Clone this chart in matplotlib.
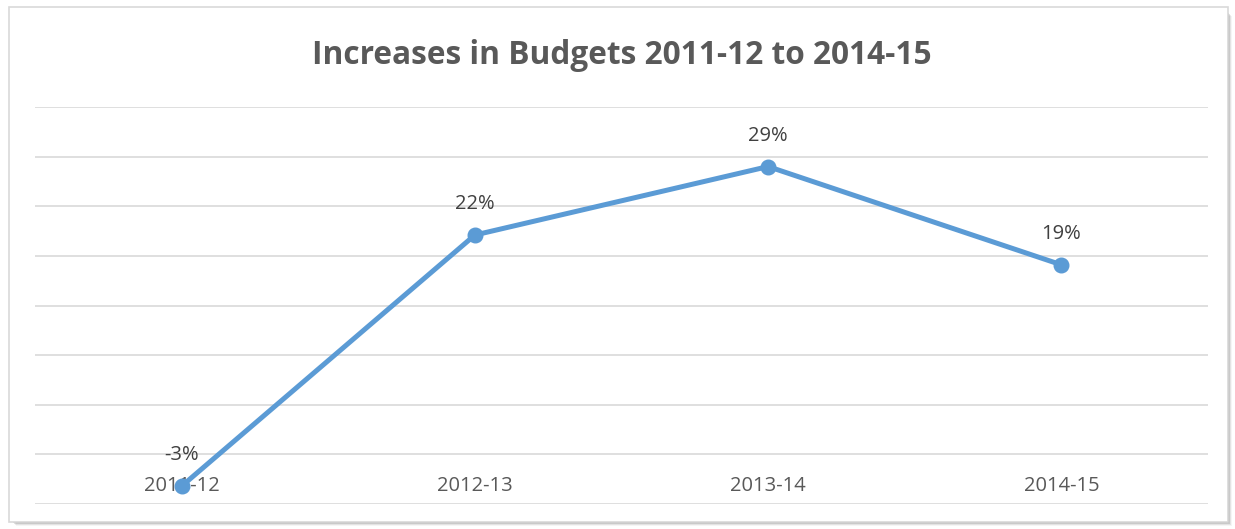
import matplotlib
matplotlib.use("Agg")
import matplotlib.pyplot as plt
from matplotlib.patches import Rectangle

categories = ["2011-12", "2012-13", "2013-14", "2014-15"]
values = [-3.2, 22.1, 29.0, 19.1]
labels = ["-3%", "22%", "29%", "19%"]
title = "Increases in Budgets 2011-12 to 2014-15"

W, H = 1235, 529
fig = plt.figure(figsize=(W / 100, H / 100), dpi=100)
fig.patch.set_facecolor("white")

# chart frame with soft shadow
def px(x0, y0, x1, y1):
    return (x0 / W, 1 - y1 / H), (x1 - x0) / W, (y1 - y0) / H

for i, a in enumerate([0.10, 0.18, 0.28, 0.40]):
    off = 4 - i
    (x, y), w, h = px(12 + off, 12 + off, 1228 + off, 522 + off)
    fig.patches.append(Rectangle((x, y), w, h, transform=fig.transFigure,
                                 facecolor=(0, 0, 0, a * 0.4), edgecolor="none", zorder=0))
(x, y), w, h = px(9, 7, 1228, 522)
fig.patches.append(Rectangle((x, y), w, h, transform=fig.transFigure,
                             facecolor="white", edgecolor="#d9d9d9", linewidth=1.2, zorder=1))

ax = fig.add_axes([35 / W, (H - 504) / H, (1208 - 35) / W, (504 - 107) / H])
ax.set_facecolor("none")
ax.set_zorder(2)
x = list(range(len(categories)))
ax.plot(x, values, color="#5B9BD5", linewidth=3.6, marker="o", markersize=10.5,
        solid_capstyle="round", zorder=3)
ax.set_xlim(-0.5, len(categories) - 0.5)
ax.set_ylim(-5, 35)
ax.set_yticks(range(-5, 36, 5))
ax.yaxis.grid(True, color="#d9d9d9", linewidth=1.2)
ax.set_axisbelow(True)
ax.tick_params(left=False, bottom=False, labelleft=False, labelbottom=False)
for s in ax.spines.values():
    s.set_visible(False)

for xi, v, lab in zip(x, values, labels):
    ax.annotate(lab, (xi, v), xytext=(0, 15), textcoords="offset points",
                ha="center", va="bottom", fontsize=14.5, color="#404040",
                family="Open Sans")
for xi, c in zip(x, categories):
    ax.text(xi, -3.2, c, ha="center", va="center", fontsize=14.5,
            color="#595959", family="Open Sans", zorder=2)

fig.text(622 / W, 1 - 55 / H, title, ha="center", va="center",
         fontsize=22.8, fontweight="bold", color="#595959", family="Open Sans")

fig.savefig("out.png", dpi=100)
